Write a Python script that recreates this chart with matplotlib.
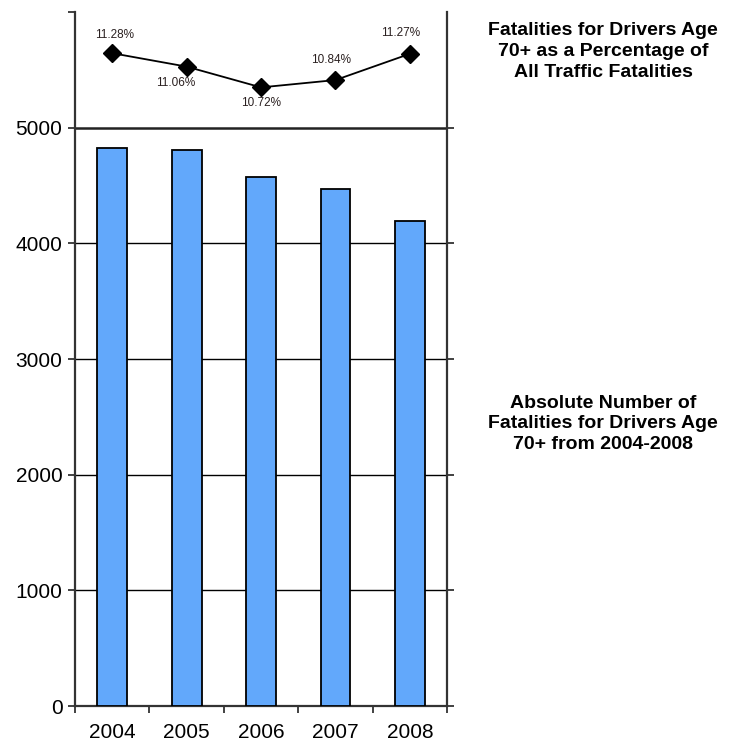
import matplotlib
matplotlib.use("Agg")
import matplotlib.pyplot as plt
import numpy as np

plt.rcParams['font.family'] = ['Liberation Sans', 'DejaVu Sans']

# data
years = ['2004', '2005', '2006', '2007', '2008']
fatalities = [4820, 4810, 4575, 4470, 4190]
pct = [11.28, 11.06, 10.72, 10.84, 11.27]
pct_labels = ['11.28%', '11.06%', '10.72%', '10.84%', '11.27%']

fig = plt.figure(figsize=(7.31, 7.45), dpi=100)
ax = fig.add_axes([0.1026, 0.0523, 0.509, 0.9316])

x = np.arange(len(years))
ax.bar(x, fatalities, width=0.4, color='#62a8fb', edgecolor='black', linewidth=1.3, zorder=3)

ax.set_xlim(-0.5, len(years) - 0.5)
ax.set_ylim(0, 6000)
ax.set_yticks([0, 1000, 2000, 3000, 4000, 5000, 6000])
ax.set_yticklabels(['0', '1000', '2000', '3000', '4000', '5000', ''])
ax.set_xticks(x)
ax.set_xticklabels(years)
ax.set_xticks(np.arange(len(years) + 1) - 0.5, minor=True)
ax.tick_params(axis='x', which='major', length=0, pad=12, labelsize=15)
ax.tick_params(axis='x', which='minor', direction='out', length=5, width=1.3, color='#333333')
ax.tick_params(axis='y', direction='out', length=5, width=1.3, color='#333333', labelsize=15,
               right=True, pad=4)
# no tick at the top of the right spine
ax.yaxis.get_major_ticks()[-1].tick2line.set_visible(False)

for v in [1000, 2000, 3000, 4000]:
    ax.axhline(v, color='black', linewidth=1.0, zorder=1)
ax.axhline(5000, color='#222222', linewidth=1.8, zorder=1)

ax.spines['top'].set_visible(False)
for s in ['left', 'right', 'bottom']:
    ax.spines[s].set_color('#333333')
    ax.spines[s].set_linewidth(1.6)

# percentage line in the band above 5000
ins = ax.inset_axes([0, 5 / 6, 1, 1 / 6])
ins.set_xlim(-0.5, len(years) - 0.5)
ins.set_ylim(10.06, 11.955)
ins.patch.set_visible(False)
ins.axis('off')
ins.plot(x, pct, color='black', linewidth=1.3, marker='D', markersize=9, zorder=4)

offsets = [(1.5, 13), (-8, -12), (0, -11), (-3, 14.5), (-7, 15)]
for i, (lab, off) in enumerate(zip(pct_labels, offsets)):
    ins.annotate(lab, (x[i], pct[i]), xytext=off, textcoords='offset points',
                 ha='center', va='center', fontsize=8.5, color='#2a2020')

fig.text(0.825, 0.931, 'Fatalities for Drivers Age\n70+ as a Percentage of\nAll Traffic Fatalities',
         ha='center', va='center', fontsize=14, fontweight='bold', linespacing=1.3)
fig.text(0.825, 0.431, 'Absolute Number of\nFatalities for Drivers Age\n70+ from 2004-2008',
         ha='center', va='center', fontsize=14, fontweight='bold', linespacing=1.3)

fig.savefig('out.png', dpi=100)
